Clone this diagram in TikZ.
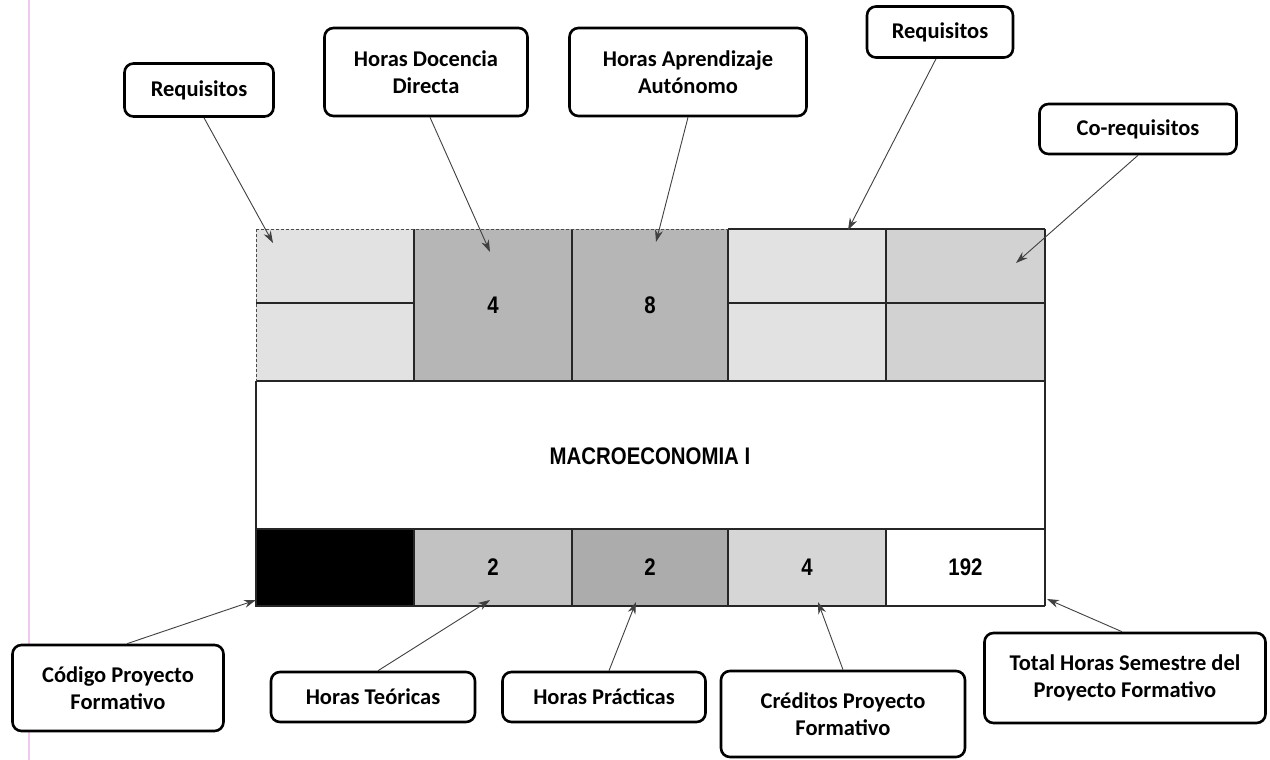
\documentclass[tikz,border=0pt]{standalone}
\usepackage{fontspec}
\setmainfont{Carlito}
\newfontfamily\narrowfont[FakeStretch=0.85]{Liberation Sans}
\usetikzlibrary{arrows.meta}
\definecolor{cellA}{HTML}{E2E2E2}
\definecolor{cellB}{HTML}{B6B6B6}
\definecolor{cellC}{HTML}{D2D2D2}
\definecolor{cellD}{HTML}{C2C2C2}
\definecolor{cellE}{HTML}{ACACAC}
\definecolor{cellF}{HTML}{D6D6D6}
\definecolor{pinkline}{HTML}{F2C8F0}
\begin{document}
\begin{tikzpicture}[x=1pt,y=-1pt,
  lbl/.style={draw=black, line width=2.6pt, rounded corners=9pt, fill=white, align=center,
    font=\fontsize{22.5}{27}\selectfont\bfseries, inner sep=0pt},
  cell/.style={inner sep=0pt, outer sep=0pt, draw=none,
    font=\narrowfont\fontsize{24}{26}\selectfont\bfseries},
  gridline/.style={draw=black!85, line width=1.8pt},
  faintline/.style={draw=black!70, line width=0.8pt, densely dashed},
  pointer/.style={draw=black!75, line width=0.9pt, -{Stealth[length=12pt,width=8pt]}}
]
\useasboundingbox (0,0) rectangle (1270,760);
\fill[white] (0,0) rectangle (1270,760);
\draw[pinkline, line width=2.5pt] (29,0) -- (29,760);

% ---- grid cells ----
\node[cell, fill=cellA, minimum width=158pt, minimum height=74pt] (a1) at (335,266) {};
\node[cell, fill=cellA, minimum width=158pt, minimum height=78pt] (a2) at (335,342) {};
\node[cell, fill=cellB, minimum width=158pt, minimum height=152pt] (b) at (493,305) {4};
\node[cell, fill=cellB, minimum width=156pt, minimum height=152pt] (c) at (650,305) {8};
\node[cell, fill=cellA, minimum width=158pt, minimum height=74pt] (d1) at (807,266) {};
\node[cell, fill=cellA, minimum width=158pt, minimum height=78pt] (d2) at (807,342) {};
\node[cell, fill=cellC, minimum width=159pt, minimum height=74pt] (e1) at (965.5,266) {};
\node[cell, fill=cellC, minimum width=159pt, minimum height=78pt] (e2) at (965.5,342) {};
\node[cell, fill=white, minimum width=789pt, minimum height=148pt] (mid) at (650.5,455) {};
\node[cell] (title) at (650,456) {MACROECONOMIA I};
\node[cell, fill=black, minimum width=158pt, minimum height=77pt] (f) at (335,567.5) {};
\node[cell, fill=cellD, minimum width=158pt, minimum height=77pt] (g) at (493,567.5) {2};
\node[cell, fill=cellE, minimum width=156pt, minimum height=77pt] (h) at (650,567.5) {2};
\node[cell, fill=cellF, minimum width=158pt, minimum height=77pt] (i) at (807,567.5) {4};
\node[cell, fill=white, minimum width=159pt, minimum height=77pt] (j) at (965.5,567.5) {192};

% ---- grid lines ----
\draw[gridline] (a1.north east) -- (a2.south east);
\draw[gridline] (b.north east) -- (b.south east);
\draw[gridline] (c.north east) -- (c.south east);
\draw[gridline] (d1.north east) -- (d2.south east);
\draw[gridline] (e1.north east) -- (j.south east);
\draw[gridline] (a1.south west) -- (a1.south east);
\draw[gridline] (d1.south west) -- (e1.south east);
\draw[gridline] (mid.north west) -- (mid.north east);
\draw[gridline] (mid.south west) -- (mid.south east);
\draw[gridline] (mid.north west) -- (f.south west) -- (j.south east);
\draw[gridline] (f.north east) -- (f.south east);
\draw[gridline] (g.north east) -- (g.south east);
\draw[gridline] (h.north east) -- (h.south east);
\draw[gridline] (i.north east) -- (i.south east);
\draw[faintline] (a1.north west) -- (a2.south west);
\draw[faintline] (a1.north west) -- (d1.north west);
\draw[gridline, line width=1.2pt] (d1.north west) -- (e1.north east);

% ---- labels ----
\node[lbl, minimum width=149pt, minimum height=53pt] (reqL) at (199,90) {Requisitos};
\node[lbl, minimum width=203pt, minimum height=88pt] (doc) at (426,72) {Horas Docencia\\Directa};
\node[lbl, minimum width=237pt, minimum height=88pt] (apr) at (688,72) {Horas Aprendizaje\\Autónomo};
\node[lbl, minimum width=146pt, minimum height=51pt] (reqR) at (940,32) {Requisitos};
\node[lbl, minimum width=197pt, minimum height=50pt] (coreq) at (1138,129) {Co-requisitos};
\node[lbl, minimum width=211pt, minimum height=86pt] (cod) at (118,688) {Código Proyecto\\Formativo};
\node[lbl, minimum width=204pt, minimum height=50pt] (teo) at (373,697) {Horas Teóricas};
\node[lbl, minimum width=203pt, minimum height=50pt] (pra) at (604,697) {Horas Prácticas};
\node[lbl, minimum width=244pt, minimum height=86pt] (cre) at (843,714) {Créditos Proyecto\\Formativo};
\node[lbl, minimum width=281pt, minimum height=90pt] (tot) at (1125,678) {Total Horas Semestre del\\Proyecto Formativo};

% ---- arrow targets ----
\coordinate (tReqL) at (273,243);
\coordinate (tDoc) at (490,252);
\coordinate (tApr) at (656,242);
\coordinate (tReqR) at (848,230);
\coordinate (tCo) at (1016,263);
\coordinate (tCod) at (256,600);
\coordinate (tTeo) at (490,600);
\coordinate (tPra) at (636,602);
\coordinate (tCre) at (818,602);
\coordinate (tTot) at (1047,599);

% ---- arrows ----
\draw[pointer] ([xshift=5pt]reqL.south) -- (tReqL);
\draw[pointer] ([xshift=4pt]doc.south) -- (tDoc);
\draw[pointer] (apr.south) -- (tApr);
\draw[pointer] ([xshift=-4pt]reqR.south) -- (tReqR);
\draw[pointer] (coreq.south) -- (tCo);
\draw[pointer] ([xshift=9pt]cod.north) -- (tCod);
\draw[pointer] ([xshift=5pt]teo.north) -- (tTeo);
\draw[pointer] ([xshift=5pt]pra.north) -- (tPra);
\draw[pointer] (cre.north) -- (tCre);
\draw[pointer] ([xshift=-3pt]tot.north) -- (tTot);
\end{tikzpicture}
\end{document}
